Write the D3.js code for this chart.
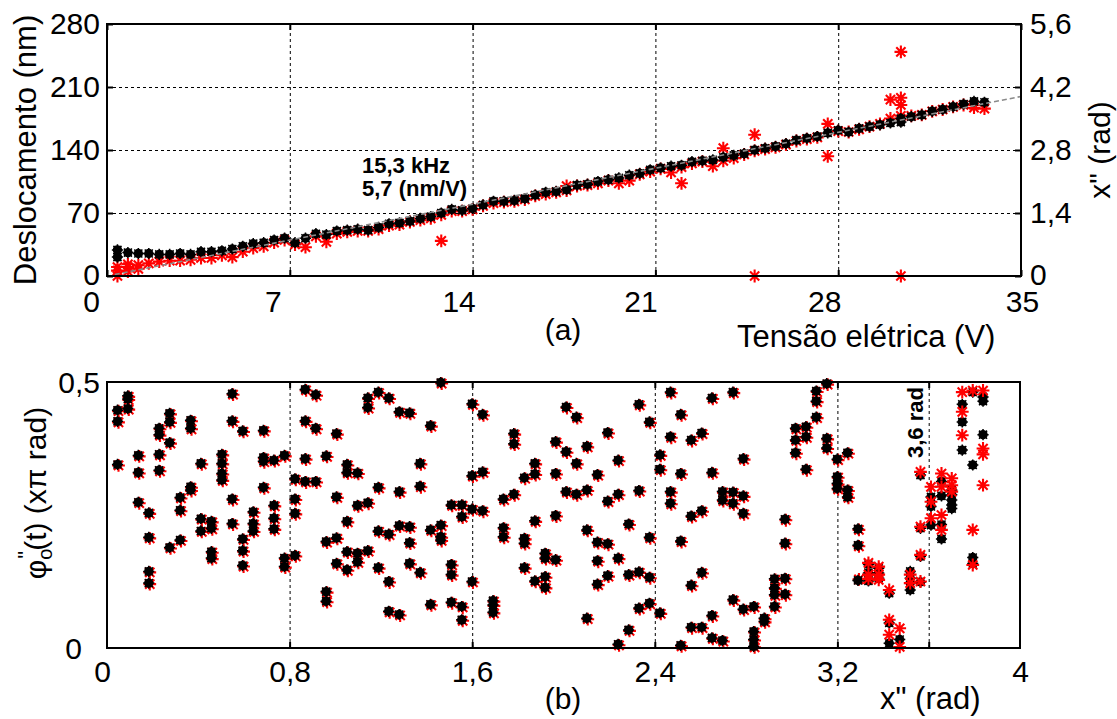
<!DOCTYPE html>
<html><head><meta charset="utf-8">
<script src="https://cdn.jsdelivr.net/npm/d3@7"></script>
<style>
body{margin:0;background:#fff}
svg{display:block;font-family:"Liberation Sans",Arial,Helvetica,sans-serif}
</style>
</head><body>
<svg id="chart" width="1117" height="719"></svg>
<script>
// ---------------- DATA ----------------
// (a) displacement vs voltage
const voltage = [0.4,0.8,1.2,1.6,2.0,2.4,2.8,3.2,3.6,4.0,4.4,4.8,5.2,5.6,6.0,6.4,6.8,7.2,7.6,8.0,
  8.4,8.8,9.2,9.6,10.0,10.4,10.8,11.2,11.6,12.0,12.4,12.8,13.2,13.6,14.0,14.4,14.8,15.2,15.6,16.0,
  16.4,16.8,17.2,17.6,18.0,18.4,18.8,19.2,19.6,20.0,20.4,20.8,21.2,21.6,22.0,22.4,22.8,23.2,23.6,24.0,
  24.4,24.8,25.2,25.6,26.0,26.4,26.8,27.2,27.6,28.0,28.4,28.8,29.2,29.6,30.0,30.4,30.8,31.2,31.6,32.0,
  32.4,32.8,33.2,33.6];
const displacementBlack = [29,26,25,25,24,24,25,24,27,27,28,30,33,36,37,40,42,37,42,47,
  46,50,51,52,51,54,58,59,61,64,66,70,74,73,75,79,83,83,84,86,
  90,93,94,96,101,102,105,107,109,112,114,118,120,122,123,127,128,129,132,134,
  136,140,142,144,147,151,153,155,159,162,160,164,166,168,170,171,177,179,183,185,
  188,191,194,193];
const displacementRed = [10,10,12,14,16,17,17,18,20,20,23,21,27,31,33,37,40,35,32,44,
  38,47,49,50,50,52,56,57,60,62,64,68,72,72,74,78,81,82,83,85,
  89,91,93,95,100,101,103,106,103,106,113,116,119,115,121,125,127,122,128,131,
  135,139,141,143,146,150,152,154,169,161,160,163,166,169,175,178,178,179,183,185,
  188,190,187,186];
const blackExtraV  = [0.4, 30.4];
const blackExtraNm = [21, 175];
const redExtraV  = [0.4, 0.4, 0.8, 0.8, 1.2, 12.8, 17.6, 22.0, 23.6, 24.8, 24.8, 27.6, 30.0, 30.4, 30.4, 30.4, 30.4, 33.2];
const redExtraNm = [0,   6,   5,   13,  8,   39,   100,  103,  142,  157,  0,    133,  196,  198,  190,  249,  0,    190];
const fitSlope = 5.7;          // nm/V, dashed linear fit
const fitVoltage = [0.3, 35];
const topXTicks = [0,7,14,21,28,35];
const topYTicks = [0,70,140,210,280];
const rightYTicks = [0,1.4,2.8,4.2,5.6];

// (b) phase vs x'' (one column per voltage step)
const phaseX = [0.046,0.091,0.137,0.183,0.228,0.274,0.320,0.366,0.411,0.457,0.503,0.548,0.594,0.640,0.685,0.731,
  0.777,0.823,0.868,0.914,0.960,1.005,1.051,1.097,1.142,1.188,1.234,1.280,1.325,1.371,1.417,1.462,1.508,1.554,
  1.599,1.645,1.691,1.736,1.782,1.828,1.874,1.919,1.965,2.011,2.056,2.102,2.148,2.193,2.239,2.285,2.330,2.376,
  2.422,2.468,2.513,2.559,2.605,2.650,2.696,2.742,2.787,2.833,2.879,2.924,2.970,3.016,3.062,3.107,3.153,3.199,
  3.244,3.290,3.336,3.381,3.427,3.473,3.519,3.564,3.610,3.656,3.701,3.747,3.793,3.838];
const phaseBlack = [
  [0.447,0.426,0.345],[0.474,0.468,0.450],[0.362,0.330,0.274],[0.254,0.208,0.144,0.122],
  [0.413,0.401,0.364,0.334],[0.441,0.425,0.386,0.189],[0.283,0.259,0.203],[0.428,0.413,0.303,0.297],
  [0.347,0.243,0.220],[0.238,0.225,0.181,0.169],[0.364,0.347,0.328,0.316],[0.478,0.427,0.280,0.234],
  [0.408,0.205,0.183,0.155],[0.256,0.234,0.220],[0.409,0.358,0.351,0.302],[0.353,0.268,0.244,0.224],
  [0.362,0.169,0.153],[0.318,0.280,0.253,0.174],[0.486,0.427,0.356,0.313],[0.476,0.413,0.313],
  [0.361,0.200,0.106,0.088],[0.403,0.284,0.207,0.159],[0.345,0.330,0.238,0.181,0.147],[0.329,0.268,0.178,0.162],
  [0.470,0.452,0.273,0.183],[0.481,0.302,0.220,0.151],[0.470,0.214,0.125,0.069],[0.444,0.294,0.230,0.063],
  [0.442,0.228,0.198,0.159],[0.347,0.304,0.142],[0.418,0.222,0.082],[0.499,0.231,0.209,0.203],
  [0.269,0.157,0.138,0.086],[0.269,0.247,0.078,0.053],[0.459,0.324,0.261,0.125],[0.439,0.331,0.258],
  [0.089,0.081,0.067],[0.280,0.226,0.209],[0.403,0.384,0.289],[0.320,0.206,0.197,0.151],
  [0.347,0.327,0.239,0.126],[0.178,0.169,0.134,0.114],[0.388,0.328,0.249,0.166],[0.453,0.369,0.294],
  [0.434,0.347,0.289],[0.379,0.297,0.222,0.056],[0.326,0.199,0.164,0.120],[0.405,0.276,0.196,0.136],
  [0.353,0.289,0.169,0.007],[0.233,0.138,0.034],[0.458,0.296,0.143,0.075],[0.425,0.208,0.133,0.084],
  [0.363,0.336,0.066],[0.481,0.397,0.294,0.272],[0.439,0.328,0.201,0.005],[0.391,0.248,0.118,0.039],
  [0.404,0.258,0.142,0.039],[0.470,0.330,0.061,0.019],[0.294,0.278,0.014],[0.481,0.293,0.272,0.091],
  [0.356,0.286,0.253,0.073],[0.078,0.031,0.016,0.003],[0.056,0.050],[0.130,0.113,0.100,0.078],
  [0.242,0.197,0.131,0.101],[0.413,0.391,0.367],[0.416,0.397,0.336],[0.483,0.464,0.434],
  [0.497,0.394,0.376],[0.355,0.322,0.309,0.300],[0.367,0.297,0.284],[0.224,0.193,0.127],
  [0.157,0.141,0.126],[0.150,0.141,0.131],[0.103,0.047,0.009],[0.016],
  [0.144,0.131,0.122,0.109],[0.325,0.225,0.172,0.124],[0.284,0.266,0.231],[0.313,0.286,0.232,0.205],
  [0.297,0.288,0.278,0.269,0.262],[0.458,0.425,0.372],[0.481,0.344,0.170,0.159],[0.472,0.464,0.401]];
// red measurement equals black up to column 70, then differs
const redTailStart = 71;
const phaseRedTail = [
  [0.224,0.193,0.131],[0.160,0.138,0.130],[0.153,0.138,0.128],[0.109,0.053,0.025],[0.037,0.002],
  [0.138,0.122],[0.331,0.228,0.175,0.125],[0.303,0.275,0.244],[0.328,0.303,0.250,0.222],
  [0.319,0.306,0.294],[0.481,0.444,0.400],[0.484,0.222,0.156],[0.484,0.375,0.364,0.306]];
const botXTicks = [0,0.8,1.6,2.4,3.2,4];
const botGrid = [0.8,1.6,2.4,3.2,3.6];
const botYTicks = [0,0.5];
const markLine = 3.6;

// ---------------- LAYOUT ----------------
const svg = d3.select("#chart");
const fmt = v => String(v).replace(".", ",");
const A = {l:107, r:1021, t:24, b:276};
const Bp = {l:107, r:1020, t:382, b:648};
const topLabelNudge = [-16,-17,-14,-15,-14,1];

function star(s){
  const d = s*0.72;
  return `M${-s},0H${s}M0,${-s}V${s}M${-d},${-d}L${d},${d}M${-d},${d}L${d},${-d}`;
}
function drawRed(g, pts, x, y, off){
  g.selectAll(null).data(pts).join("path")
    .attr("transform", d => `translate(${x(d[0])+off},${y(d[1])+off})`)
    .attr("d", star(6.4)).attr("stroke","#ff0000").attr("stroke-width",2.1).attr("fill","none");
}
function drawBlack(g, pts, x, y){
  const m = g.selectAll(null).data(pts).join("g")
    .attr("transform", d => `translate(${x(d[0])},${y(d[1])})`);
  m.append("path").attr("d", star(5.6)).attr("stroke","#000").attr("stroke-width",1.5);
  m.append("circle").attr("r",4.7).attr("fill","#000");
}

// ---------------- PANEL (a) ----------------
const xA = d3.scaleLinear().domain([0,35]).range([A.l, A.r]);
const yA = d3.scaleLinear().domain([0,280]).range([A.b, A.t]);
const yR = d3.scaleLinear().domain([0,5.6]).range([A.b, A.t]);
const gA = svg.append("g");

// grid
gA.append("g").attr("transform",`translate(0,${A.b})`)
  .call(d3.axisBottom(xA).tickValues(topXTicks.slice(1,-1)).tickSize(-(A.b-A.t)).tickFormat(""))
  .call(g=>{g.select(".domain").remove(); g.selectAll("line").attr("stroke","#000").attr("stroke-dasharray","3,3");});
gA.append("g").attr("transform",`translate(${A.l},0)`)
  .call(d3.axisLeft(yA).tickValues(topYTicks.slice(1,-1)).tickSize(-(A.r-A.l)).tickFormat(""))
  .call(g=>{g.select(".domain").remove(); g.selectAll("line").attr("stroke","#000").attr("stroke-dasharray","3,3");});

const redPts = voltage.map((v,i)=>[v, displacementRed[i]]).concat(redExtraV.map((v,i)=>[v, redExtraNm[i]]));
const blackPts = voltage.map((v,i)=>[v, displacementBlack[i]]).concat(blackExtraV.map((v,i)=>[v, blackExtraNm[i]]));
const mA = gA.append("g");
drawRed(mA, redPts, xA, yA, 0);
drawBlack(mA, blackPts, xA, yA);
gA.append("path").datum(fitVoltage.map(v=>[v, fitSlope*v]))
  .attr("d", d3.line().x(d=>xA(d[0])).y(d=>yA(d[1])))
  .attr("fill","none").attr("stroke","#8a8a8a").attr("stroke-width",1.6).attr("stroke-dasharray","5,3");

// frame + inward ticks
gA.append("rect").attr("x",A.l).attr("y",A.t).attr("width",A.r-A.l).attr("height",A.b-A.t)
  .attr("fill","none").attr("stroke","#000").attr("stroke-width",2);
const tickStyle = g=>{g.select(".domain").remove(); g.selectAll("line").attr("stroke","#000").attr("stroke-width",2);};
gA.append("g").attr("transform",`translate(0,${A.b})`).call(d3.axisBottom(xA).tickValues(topXTicks).tickSize(-6).tickFormat("")).call(tickStyle);
gA.append("g").attr("transform",`translate(0,${A.t})`).call(d3.axisTop(xA).tickValues(topXTicks).tickSize(-6).tickFormat("")).call(tickStyle);
gA.append("g").attr("transform",`translate(${A.l},0)`).call(d3.axisLeft(yA).tickValues(topYTicks).tickSize(-6).tickFormat("")).call(tickStyle);
gA.append("g").attr("transform",`translate(${A.r},0)`).call(d3.axisRight(yR).tickValues(rightYTicks).tickSize(-6).tickFormat("")).call(tickStyle);

// tick labels
gA.append("g").attr("transform",`translate(0,${A.b})`)
  .call(d3.axisBottom(xA).tickValues(topXTicks).tickSize(0).tickFormat(fmt))
  .call(g=>{g.select(".domain").remove();
    g.selectAll("text").attr("y",36).attr("dy",0).attr("font-size",30).attr("fill","#000")
      .attr("font-family",null).attr("dx",(d,i)=>topLabelNudge[i]);});
gA.append("g").attr("transform",`translate(${A.l},0)`)
  .call(d3.axisLeft(yA).tickValues(topYTicks).tickSize(0).tickFormat(fmt))
  .call(g=>{g.select(".domain").remove();
    g.selectAll("text").attr("x",-7).attr("dy",(d,i)=> i===0 ? "0.28em" : "0.33em").attr("font-size",30).attr("fill","#000").attr("font-family",null);});
gA.append("g").attr("transform",`translate(${A.r},0)`)
  .call(d3.axisRight(yR).tickValues(rightYTicks).tickSize(0).tickFormat(fmt))
  .call(g=>{g.select(".domain").remove();
    g.selectAll("text").attr("x",9).attr("dy",(d,i)=> i===0 ? "0.28em" : "0.33em").attr("font-size",30).attr("fill","#000").attr("font-family",null);});

// titles (a)
svg.append("text").attr("transform","translate(36,150) rotate(-90)").attr("text-anchor","middle")
  .attr("font-size",31).text("Deslocamento (nm)");
svg.append("text").attr("transform","translate(1110,150) rotate(-90)").attr("text-anchor","middle")
  .attr("font-size",30).text("x\" (rad)");
svg.append("text").attr("x",737).attr("y",347).attr("font-size",31).text("Tensão elétrica (V)");
svg.append("text").attr("x",563).attr("y",340).attr("text-anchor","middle").attr("font-size",30).text("(a)");
svg.append("text").attr("x",362).attr("y",173).attr("font-size",22).attr("font-weight","bold").text("15,3 kHz");
svg.append("text").attr("x",362).attr("y",196).attr("font-size",22).attr("font-weight","bold").text("5,7 (nm/V)");

// ---------------- PANEL (b) ----------------
const xB = d3.scaleLinear().domain([0,4]).range([Bp.l, Bp.r]);
const yB = d3.scaleLinear().domain([0,0.5]).range([Bp.b, Bp.t]);
const gB = svg.append("g");
gB.append("g").attr("transform",`translate(0,${Bp.b})`)
  .call(d3.axisBottom(xB).tickValues(botGrid).tickSize(-(Bp.b-Bp.t)).tickFormat(""))
  .call(g=>{g.select(".domain").remove(); g.selectAll("line").attr("stroke","#000").attr("stroke-dasharray","3,3");});

const redB = [], blackB = [];
phaseBlack.forEach((col,j)=>{
  col.forEach(p=>blackB.push([phaseX[j], p]));
  const rc = j >= redTailStart ? phaseRedTail[j-redTailStart] : col;
  rc.forEach(p=>redB.push([phaseX[j], p]));
});
const mB = gB.append("g");
const lowB = blackB.filter(d=>d[0] < 3.3), highB = blackB.filter(d=>d[0] >= 3.3);
const lowR = redB.filter(d=>d[0] < 3.3), highR = redB.filter(d=>d[0] >= 3.3);
drawRed(mB, lowR, xB, yB, 1);
drawBlack(mB, lowB, xB, yB);
drawBlack(mB, highB, xB, yB);
drawRed(mB, highR, xB, yB, 0);

gB.append("rect").attr("x",Bp.l).attr("y",Bp.t).attr("width",Bp.r-Bp.l).attr("height",Bp.b-Bp.t)
  .attr("fill","none").attr("stroke","#000").attr("stroke-width",2);
gB.append("g").attr("transform",`translate(0,${Bp.b})`).call(d3.axisBottom(xB).tickValues(botGrid).tickSize(-6).tickFormat("")).call(tickStyle);
gB.append("g").attr("transform",`translate(0,${Bp.t})`).call(d3.axisTop(xB).tickValues(botGrid).tickSize(-6).tickFormat("")).call(tickStyle);

gB.append("g").attr("transform",`translate(0,${Bp.b})`)
  .call(d3.axisBottom(xB).tickValues(botXTicks).tickSize(0).tickFormat(fmt))
  .call(g=>{g.select(".domain").remove();
    g.selectAll("text").attr("y",34).attr("dy",0).attr("font-size",30).attr("fill","#000")
      .attr("font-family",null).attr("dx",(d,i)=> i===0 ? -5 : 0);});
gB.append("g").attr("transform",`translate(${Bp.l},0)`)
  .call(d3.axisLeft(yB).tickValues(botYTicks).tickSize(0).tickFormat(fmt))
  .call(g=>{g.select(".domain").remove();
    g.selectAll("text").attr("x",-7).attr("dy","0.36em").attr("font-size",30).attr("fill","#000")
      .attr("font-family",null).attr("dx",(d,i)=> i===0 ? -18 : 0);});

// titles (b)
const yt = svg.append("text").attr("transform","translate(46,493) rotate(-90)").attr("text-anchor","middle").attr("font-size",30);
yt.append("tspan").text("φ");
yt.append("tspan").attr("font-size",20).attr("dy",6).text("o");
yt.append("tspan").attr("font-size",22).attr("dx",-10).attr("dy",-19).text("\"");
yt.append("tspan").attr("dy",13).text("(t) (xπ rad)");
svg.append("text").attr("x",563).attr("y",709).attr("text-anchor","middle").attr("font-size",30).text("(b)");
svg.append("text").attr("x",880).attr("y",709).attr("font-size",31).text("x\" (rad)");
svg.append("text").attr("transform",`translate(${xB(markLine)-6},458) rotate(-90)`)
  .attr("font-size",22).attr("font-weight","bold").text("3,6 rad");
</script>
</body></html>
